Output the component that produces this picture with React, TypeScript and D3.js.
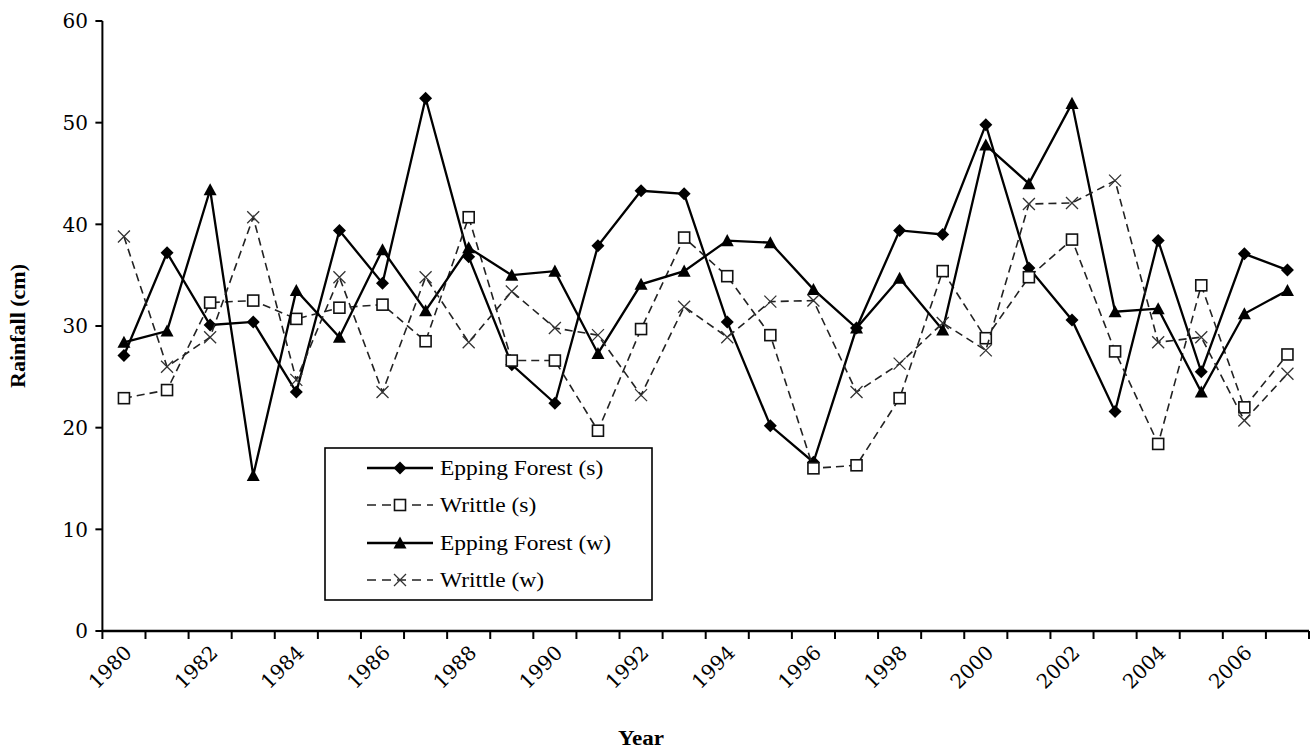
import React from "react";
import * as d3 from "d3";

const years = d3.range(1980, 2008);
const yTicks = [0, 10, 20, 30, 40, 50, 60];
const xLabelYears = d3.range(1980, 2008, 2);

const eppingS = [27.1, 37.2, 30.1, 30.4, 23.5, 39.4, 34.2, 52.4, 36.8, 26.2, 22.4, 37.9, 43.3, 43.0, 30.4, 20.2, 16.6, 29.8, 39.4, 39.0, 49.8, 35.7, 30.6, 21.6, 38.4, 25.5, 37.1, 35.5];
const writtleS = [22.9, 23.7, 32.3, 32.5, 30.7, 31.8, 32.1, 28.5, 40.7, 26.6, 26.6, 19.7, 29.7, 38.7, 34.9, 29.1, 16.0, 16.3, 22.9, 35.4, 28.8, 34.8, 38.5, 27.5, 18.4, 34.0, 22.0, 27.2];
const eppingW = [28.4, 29.5, 43.4, 15.3, 33.5, 28.9, 37.5, 31.5, 37.7, 35.0, 35.4, 27.3, 34.1, 35.4, 38.4, 38.2, 33.6, 29.8, 34.7, 29.6, 47.8, 44.0, 51.9, 31.4, 31.7, 23.5, 31.2, 33.5];
const writtleW = [38.8, 26.0, 28.9, 40.7, 24.7, 34.8, 23.5, 34.8, 28.4, 33.4, 29.8, 29.1, 23.2, 31.9, 28.9, 32.4, 32.5, 23.5, 26.3, 30.3, 27.6, 42.0, 42.1, 44.3, 28.4, 28.9, 20.7, 25.3];

type MarkerKind = "diamond" | "square" | "triangle" | "cross";
const seriesList: { name: string; values: number[]; dashed: boolean; marker: MarkerKind }[] = [
  { name: "Epping Forest (s)", values: eppingS, dashed: false, marker: "diamond" },
  { name: "Writtle (s)", values: writtleS, dashed: true, marker: "square" },
  { name: "Epping Forest (w)", values: eppingW, dashed: false, marker: "triangle" },
  { name: "Writtle (w)", values: writtleW, dashed: true, marker: "cross" },
];

const W = 1312;
const H = 752;
const x = d3.scaleLinear().domain([1980, 2008]).range([102.4, 1309]);
const y = d3.scaleLinear().domain([0, 60]).range([631, 21]);

function Marker({ kind, cx, cy }: { kind: MarkerKind; cx: number; cy: number }) {
  if (kind === "diamond") {
    const s = 6.5;
    return <path d={`M${cx},${cy - s}L${cx + s},${cy}L${cx},${cy + s}L${cx - s},${cy}Z`} fill="#000" />;
  }
  if (kind === "square") {
    const s = 5.5;
    return <rect x={cx - s} y={cy - s} width={2 * s} height={2 * s} fill="#fff" stroke="#111" strokeWidth={1.6} />;
  }
  if (kind === "triangle") {
    const s = 6.5;
    return <path d={`M${cx},${cy - s}L${cx + s},${cy + s * 0.85}L${cx - s},${cy + s * 0.85}Z`} fill="#000" />;
  }
  const s = 6;
  return (
    <path
      d={`M${cx - s},${cy - s}L${cx + s},${cy + s}M${cx + s},${cy - s}L${cx - s},${cy + s}`}
      stroke="#333"
      strokeWidth={1.3}
      fill="none"
    />
  );
}

export default function App() {
  const line = d3
    .line<number>()
    .x((_, i) => x(years[i] + 0.5))
    .y((v) => y(v));

  const legendX = 325;
  const legendY = 448;
  const legendW = 327;
  const legendH = 152;
  const rowYs = [468, 505, 543, 580];

  return (
    <svg
      width={W}
      height={H}
      style={{ position: "absolute", left: 0, top: 0, background: "#fff" }}
      xmlns="http://www.w3.org/2000/svg"
    >
      <rect x={0} y={0} width={W} height={H} fill="#fff" />

      {/* series */}
      {seriesList.map((s) => (
        <g key={s.name}>
          <path
            d={line(s.values) || ""}
            fill="none"
            stroke={s.dashed ? "#222" : "#000"}
            strokeWidth={s.dashed ? 1.6 : 2.3}
            strokeDasharray={s.dashed ? "8,5" : undefined}
            strokeLinejoin="miter"
          />
          {s.values.map((v, i) => (
            <Marker key={i} kind={s.marker} cx={x(years[i] + 0.5)} cy={y(v)} />
          ))}
        </g>
      ))}

      {/* y axis */}
      <line x1={x(1980)} x2={x(1980)} y1={y(60)} y2={y(0)} stroke="#000" strokeWidth={2} />
      {yTicks.map((t) => (
        <g key={t}>
          <line x1={x(1980) - 7} x2={x(1980)} y1={y(t)} y2={y(t)} stroke="#000" strokeWidth={2} />
          <text
            x={88}
            y={y(t)}
            dy="0.36em"
            textAnchor="end"
            fontFamily="DejaVu Serif"
            fontSize={20}
            fill="#000"
          >
            {t}
          </text>
        </g>
      ))}

      {/* x axis */}
      <line x1={x(1980)} x2={x(2008)} y1={y(0)} y2={y(0)} stroke="#000" strokeWidth={2.5} />
      {d3.range(1980, 2009).map((yr) => (
        <line key={yr} x1={x(yr)} x2={x(yr)} y1={y(0)} y2={y(0) + 8} stroke="#000" strokeWidth={2} />
      ))}
      {xLabelYears.map((yr) => {
        const cx = x(yr + 0.5) + 4;
        const cy = 649;
        return (
          <text
            key={yr}
            transform={`translate(${cx},${cy}) rotate(-45)`}
            textAnchor="end"
            dy="0.35em"
            fontFamily="DejaVu Serif"
            fontSize={20}
            fill="#000"
          >
            {yr}
          </text>
        );
      })}

      {/* axis titles */}
      <text
        transform={`translate(${641},${745}) scale(1.1,1)`}
        textAnchor="middle"
        fontFamily="Liberation Serif"
        fontWeight="bold"
        fontSize={21}
        fill="#000"
      >
        Year
      </text>
      <text
        transform={`translate(${25},${326}) rotate(-90) scale(1.1,1)`}
        textAnchor="middle"
        fontFamily="Liberation Serif"
        fontWeight="bold"
        fontSize={20}
        fill="#000"
      >
        Rainfall (cm)
      </text>

      {/* legend */}
      <rect x={legendX} y={legendY} width={legendW} height={legendH} fill="#fff" stroke="#000" strokeWidth={1.6} />
      {seriesList.map((s, i) => (
        <g key={s.name}>
          <line
            x1={367}
            x2={433}
            y1={rowYs[i]}
            y2={rowYs[i]}
            stroke={s.dashed ? "#222" : "#000"}
            strokeWidth={s.dashed ? 1.6 : 2.3}
            strokeDasharray={s.dashed ? "9,6" : undefined}
          />
          <Marker kind={s.marker} cx={400} cy={rowYs[i]} />
          <text
            transform={`translate(${440},${rowYs[i]}) scale(1.12,1)`}
            dy="0.33em"
            fontFamily="Liberation Serif"
            fontSize={21}
            fill="#000"
          >
            {s.name}
          </text>
        </g>
      ))}
    </svg>
  );
}
